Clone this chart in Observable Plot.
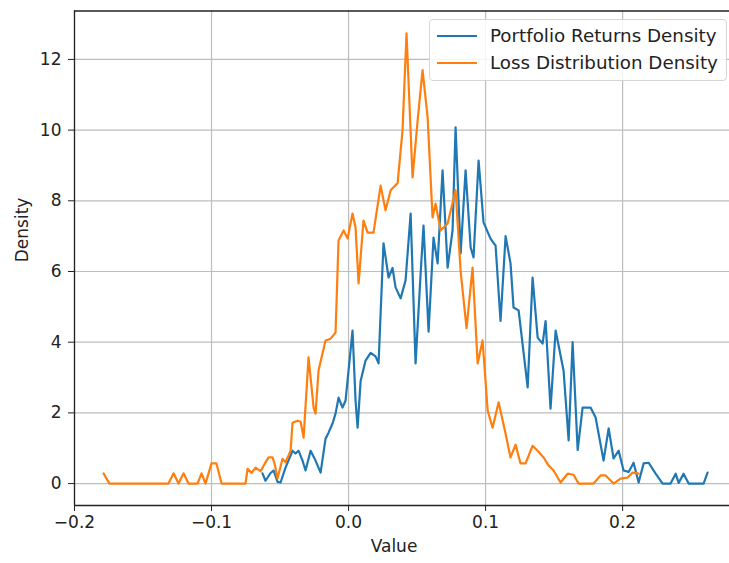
<!DOCTYPE html>
<html>
<head>
<meta charset="utf-8">
<script src="https://cdn.jsdelivr.net/npm/d3@7"></script>
<script src="https://cdn.jsdelivr.net/npm/@observablehq/plot@0.6"></script>
<style>
  html, body { margin: 0; padding: 0; background: white; }
  #wrap { position: relative; width: 729px; height: 563px; overflow: hidden; }
  #legend {
    position: absolute; left: 429px; top: 19px; width: 296px; height: 60px;
    border: 1px solid #d6d6d6; border-radius: 4px; background: rgba(255,255,255,0.85);
    font-family: "DejaVu Sans", sans-serif; font-size: 18.3px; color: #222;
  }
  .row { position: absolute; left: 0; height: 24px; }
  .swatch { position: absolute; left: 7px; width: 40px; height: 2.2px; }
  .lab { position: absolute; left: 60px; white-space: nowrap; line-height: 24px; }
</style>
</head>
<body>
<div id="wrap"></div>
<script>
// Series: Portfolio Returns Density (blue)
const portfolioX = [-0.0628,-0.0606,-0.0569,-0.0547,-0.0518,-0.0496,-0.0460,-0.0409,-0.0387,-0.0365,-0.0336,-0.0314,-0.0277,-0.0241,-0.0204,-0.0168,-0.0146,-0.0117,-0.0095,-0.0073,-0.0044,-0.0022,0.0029,0.0051,0.0066,0.0088,0.0124,0.0161,0.0197,0.0219,0.0255,0.0292,0.0321,0.0343,0.0380,0.0416,0.0453,0.0489,0.0526,0.0547,0.0584,0.0620,0.0650,0.0686,0.0723,0.0759,0.0781,0.0818,0.0854,0.0891,0.0912,0.0949,0.0985,0.1036,0.1073,0.1109,0.1146,0.1182,0.1204,0.1241,0.1307,0.1343,0.1380,0.1416,0.1438,0.1474,0.1511,0.1569,0.1606,0.1635,0.1672,0.1708,0.1766,0.1803,0.1861,0.1898,0.1934,0.1971,0.2007,0.2044,0.2080,0.2117,0.2153,0.2190,0.2241,0.2292,0.2350,0.2387,0.2409,0.2445,0.2482,0.2591,0.2620];
const portfolioY = [0.29,0.08,0.30,0.37,0.05,0.03,0.45,0.93,0.85,0.93,0.65,0.37,0.93,0.65,0.31,1.27,1.44,1.70,1.98,2.43,2.15,2.35,4.33,2.35,1.58,2.90,3.48,3.70,3.60,3.40,6.80,5.83,6.10,5.55,5.24,5.75,7.64,3.40,5.94,7.30,4.30,6.96,6.23,8.86,6.11,7.16,10.08,6.51,8.86,6.68,6.40,9.14,7.39,6.93,6.73,4.60,7.00,6.23,4.98,4.90,2.72,5.83,4.13,3.96,4.60,2.12,4.33,3.20,1.22,4.00,0.95,2.15,2.15,1.87,0.65,1.56,0.71,0.93,0.37,0.33,0.59,0.03,0.57,0.59,0.28,0.00,0.00,0.28,0.02,0.28,0.00,0.00,0.31];

// Series: Loss Distribution Density (orange)
const lossX = [-0.1788,-0.1745,-0.1314,-0.1277,-0.1241,-0.1204,-0.1168,-0.1102,-0.1073,-0.1044,-0.1000,-0.0964,-0.0927,-0.0752,-0.0737,-0.0708,-0.0679,-0.0642,-0.0606,-0.0584,-0.0555,-0.0540,-0.0518,-0.0482,-0.0460,-0.0423,-0.0409,-0.0372,-0.0350,-0.0328,-0.0292,-0.0255,-0.0241,-0.0219,-0.0168,-0.0131,-0.0095,-0.0073,-0.0036,-0.0007,0.0029,0.0051,0.0073,0.0109,0.0139,0.0182,0.0234,0.0270,0.0307,0.0358,0.0394,0.0423,0.0467,0.0504,0.0540,0.0577,0.0613,0.0635,0.0672,0.0723,0.0781,0.0818,0.0861,0.0905,0.0942,0.0978,0.1015,0.1051,0.1095,0.1146,0.1182,0.1219,0.1255,0.1292,0.1343,0.1380,0.1423,0.1460,0.1496,0.1547,0.1599,0.1642,0.1679,0.1788,0.1839,0.1876,0.1934,0.1985,0.2036,0.2073,0.2117];
const lossY = [0.29,0.00,0.00,0.29,0.00,0.29,0.00,0.00,0.29,0.00,0.57,0.57,0.00,0.00,0.42,0.30,0.45,0.35,0.60,0.74,0.74,0.57,0.15,0.70,0.60,0.93,1.72,1.78,1.75,1.30,3.57,2.15,1.98,3.20,4.05,4.10,4.27,6.88,7.16,6.93,7.64,7.25,5.66,7.44,7.10,7.10,8.43,7.73,8.30,8.50,10.00,12.74,8.66,10.27,11.70,10.36,7.53,7.92,7.16,7.36,8.30,6.00,4.40,6.11,3.40,4.05,2.07,1.58,2.30,1.41,0.74,1.10,0.57,0.57,1.07,0.93,0.74,0.51,0.37,0.03,0.28,0.25,0.00,0.00,0.23,0.23,0.00,0.14,0.17,0.31,0.28];

const xTicks = [-0.2, -0.1, 0.0, 0.1, 0.2];
const yTicks = [0, 2, 4, 6, 8, 10, 12];
const seriesNames = ["Portfolio Returns Density", "Loss Distribution Density"];
const seriesColors = ["#1f77b4", "#ff7f0e"];
const xLabel = "Value";
const yLabel = "Density";

const portfolio = portfolioX.map((x, i) => ({x, y: portfolioY[i]}));
const loss = lossX.map((x, i) => ({x, y: lossY[i]}));

const xDomain = [-0.2, 0.278];
const yDomain = [-0.62, 13.37];
const fmt = d => { const s = d.toFixed(1); return (Math.abs(d) < 1e-9 ? "0.0" : s.replace("-", "\u2212")); };

const chart = Plot.plot({
  width: 729,
  height: 563,
  marginLeft: 74,
  marginRight: 0,
  marginTop: 10.5,
  marginBottom: 58,
  x: {domain: xDomain},
  y: {domain: yDomain},
  style: {fontFamily: "DejaVu Sans, sans-serif", fontSize: "17px", color: "#222", background: "white", overflow: "visible"},
  marks: [
    Plot.gridX(xTicks, {stroke: "#bdbdbd", strokeOpacity: 1, strokeWidth: 1.2}),
    Plot.gridY(yTicks, {stroke: "#bdbdbd", strokeOpacity: 1, strokeWidth: 1.2}),
    Plot.line(portfolio, {x: "x", y: "y", stroke: seriesColors[0], strokeWidth: 2.2, curve: "linear"}),
    Plot.line(loss, {x: "x", y: "y", stroke: seriesColors[1], strokeWidth: 2.2, curve: "linear"}),
    Plot.ruleX([xDomain[0]], {stroke: "#222", strokeWidth: 1.3}),
    Plot.ruleY([yDomain[0], yDomain[1]], {stroke: "#222", strokeWidth: 1.3}),
    Plot.axisX(xTicks, {tickSize: 6, tickPadding: 4, tickFormat: fmt, label: null, stroke: "#222", fontSize: 17}),
    Plot.axisY(yTicks, {tickSize: 6, tickPadding: 7, label: null, stroke: "#222", fontSize: 17}),
    Plot.text([xLabel], {frameAnchor: "bottom", dx: -8, dy: 46, fontSize: 17, fill: "#222"}),
    Plot.text([yLabel], {frameAnchor: "left", rotate: -90, dx: -52, dy: 4, fontSize: 17, fill: "#222"})
  ]
});

const wrap = document.getElementById("wrap");
wrap.appendChild(chart);

const legend = document.createElement("div");
legend.id = "legend";
seriesNames.forEach((name, i) => {
  const row = document.createElement("div");
  row.className = "row";
  row.style.top = (4 + i * 27) + "px";
  row.style.width = "100%";
  const sw = document.createElement("div");
  sw.className = "swatch";
  sw.style.background = seriesColors[i];
  sw.style.top = "11px";
  const lab = document.createElement("div");
  lab.className = "lab";
  lab.textContent = name;
  row.appendChild(sw);
  row.appendChild(lab);
  legend.appendChild(row);
});
wrap.appendChild(legend);
</script>
</body>
</html>
